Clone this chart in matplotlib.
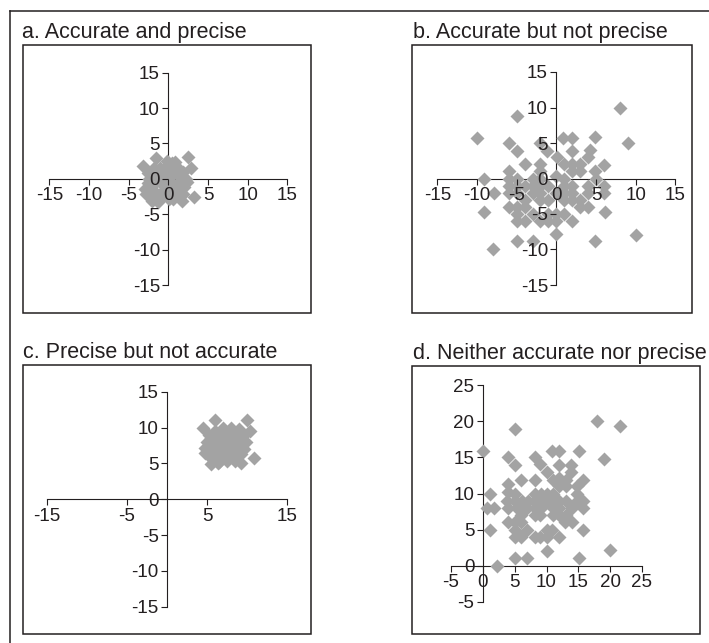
import matplotlib
matplotlib.use("Agg")
import matplotlib.pyplot as plt
from matplotlib.lines import Line2D
from matplotlib.patches import Rectangle

plt.rcParams["font.family"] = ["Liberation Sans", "DejaVu Sans"]

W, H = 709, 643
GREY = "#a3a3a3"
INK = "#231f20"

titles = ["a. Accurate and precise", "b. Accurate but not precise",
          "c. Precise but not accurate", "d. Neither accurate nor precise"]

# panel a: tight cluster round the origin
a_x = [-3.2, -1.6, 2.5, 2.9, 3.3, 1.7, -2.1, -3.0, -2.8, -1.3,
       -2.0, -1.0, 0.0, 1.0, 1.8, -2.4, -1.5, -0.5, 0.5, 1.5, 2.2, -2.0, -1.0, 0.0, 1.0,
       2.0, -1.6, -0.6, 0.4, 1.4, -0.8, 0.6, -2.5, 2.3, 0.2, -0.3, 0.9, -1.2, 1.2, -0.2,
       0.8, -1.8, 1.9, -2.2, -2.6, 0.1, 1.6, -0.9, 0.5, -1.4]
a_y = [1.8, 3.0, 3.1, 1.5, -2.5, -3.1, -3.1, -1.5, -2.2, -3.3,
       1.0, 1.5, 1.9, 1.8, 1.0, 0.0, 0.5, 0.8, 0.6, 0.3, 0.0, -1.0, -0.5, -0.2, -0.8,
       -1.2, -2.0, -1.6, -1.9, -2.0, -2.6, -2.8, -0.6, -0.5, 1.0, -1.0, -1.3, 0.9, 1.1, 2.5,
       2.4, 1.6, -2.1, -1.8, 0.8, -2.9, -0.9, -0.1, 2.2, -2.6]

# panel b: centred but widely scattered
b_x = [8.0, -4.9, -10.0, -6.0, -4.9, -2.1, -1.2, 0.9, 2.0, 4.9, 9.1, 2.0, 4.2, 4.0, 0.1,
       -3.9, -2.1, 1.0, 2.0, 3.0, 6.0, -6.0, -2.1, 2.0, 3.0, 4.9,
       -9.1, -6.0, -5.0, -3.0, -2.0, 0.0, 1.0, 5.0,
       -6.0, -5.0, -4.0, -3.0, -2.0, -1.0, 1.0, 2.0, 4.0, 6.0,
       -7.8, -6.0, -5.0, -3.0, -2.0, 0.0, 1.0, 2.0, 4.0, 6.0,
       -4.0, -2.0, -1.0, 1.0, 2.0, 3.0,
       -6.0, -5.0, -4.0, 3.0, 4.0,
       -9.1, -5.0, -3.0, -1.0, 0.0, 1.0, 6.1,
       -5.0, -4.0, -2.0, -1.0, 0.0, 2.0,
       0.0, -4.9, -3.0, 4.9, 10.0, -8.0]
b_y = [10.0, 8.8, 5.7, 5.0, 3.9, 5.0, 3.9, 5.7, 5.7, 5.9, 5.0, 3.9, 4.0, 3.0, 3.0,
       2.0, 2.0, 2.0, 2.0, 2.0, 1.9, 1.0, 1.0, 1.0, 1.0, 1.0,
       0.0, 0.0, 0.0, 0.0, 0.0, 0.3, 0.0, 0.0,
       -1.0, -1.0, -1.0, -1.0, -1.0, -1.0, -1.0, -1.0, -1.0, -1.0,
       -2.0, -2.0, -2.0, -2.0, -2.0, -2.0, -2.0, -2.0, -2.0, -2.0,
       -3.0, -3.0, -3.0, -3.0, -3.0, -3.0,
       -4.0, -4.0, -4.0, -4.0, -4.0,
       -4.7, -5.0, -5.0, -5.0, -5.0, -5.0, -4.7,
       -6.0, -6.0, -6.0, -6.0, -6.0, -6.0,
       -7.8, -8.8, -8.8, -8.8, -7.9, -10.0]

# panel c: tight cluster away from the origin
c_x = [4.5, 6.0, 10.0, 10.4, 10.9, 9.2, 5.5, 6.3, 4.7,
       5.2, 6.0, 7.0, 8.0, 9.0, 9.6, 5.0, 6.0, 7.0, 8.0, 9.0, 9.8, 4.8, 5.8, 6.8, 7.8,
       8.8, 9.6, 5.2, 6.2, 7.2, 8.2, 9.2, 5.6, 6.6, 7.6, 8.6, 6.5, 7.5, 8.5, 5.5, 7.0,
       8.0, 9.0, 6.0, 7.2, 8.4, 9.4, 5.9, 7.9, 6.8]
c_y = [9.9, 11.0, 11.0, 9.5, 5.7, 5.1, 4.9, 5.0, 6.5,
       9.0, 9.5, 10.0, 10.0, 9.6, 9.0, 8.0, 8.4, 8.8, 8.9, 8.5, 8.0, 7.2, 7.5, 7.8, 7.6,
       7.4, 7.0, 6.3, 6.6, 6.8, 6.5, 6.3, 5.6, 5.8, 5.9, 5.7, 5.2, 5.4, 5.3, 8.6, 9.2,
       9.3, 9.8, 7.0, 7.2, 7.9, 8.4, 6.0, 8.2, 6.2]

# panel d: offset and widely scattered
d_x = [18.0, 21.5, 5.1, 0.1, 4.0, 5.1, 8.2, 9.0, 10.8, 12.0, 15.1, 19.0, 12.0, 13.9, 13.9,
       10.0, 6.0, 8.2, 11.0, 12.0, 13.0, 15.8, 3.9, 12.0, 13.0, 14.8,
       1.1, 4.0, 5.1, 8.2, 9.2, 10.0, 11.0, 14.8,
       3.75, 5.1, 6.1, 7.1, 8.2, 9.0, 10.0, 11.0, 12.0, 13.1, 14.8, 15.8,
       0.6, 1.8, 4.0, 5.3, 7.0, 8.2, 9.2, 11.0, 12.0, 14.0, 15.8,
       6.0, 8.2, 9.0, 11.0, 12.0, 13.1,
       4.0, 5.1, 6.0, 12.9, 14.0,
       1.1, 5.1, 7.0, 10.0, 10.8, 15.8,
       5.1, 6.0, 8.2, 9.0, 10.0, 12.0,
       10.0, 20.0, 5.1, 7.0, 15.1, 2.2]
d_y = [20.1, 19.3, 18.9, 15.9, 15.0, 13.9, 15.0, 14.1, 15.9, 15.9, 15.9, 14.8, 14.0, 14.0, 13.0,
       13.0, 11.9, 11.9, 11.9, 12.1, 11.9, 11.9, 11.3, 11.1, 11.1, 11.1,
       10.0, 10.2, 10.0, 10.0, 10.0, 10.0, 10.0, 10.0,
       9.0, 9.0, 9.0, 9.0, 9.0, 9.0, 9.0, 9.0, 9.0, 9.0, 9.0, 9.0,
       8.0, 8.0, 8.0, 8.0, 8.0, 8.0, 8.0, 8.0, 8.0, 8.0, 8.0,
       7.0, 7.0, 7.0, 7.0, 7.0, 7.0,
       6.0, 6.0, 6.0, 6.0, 6.0,
       5.0, 5.0, 5.0, 5.0, 5.0, 5.0,
       4.0, 4.0, 4.0, 4.0, 4.0, 4.0,
       2.0, 2.2, 1.1, 1.0, 1.1, 0.0]

lim_abc = (-15, 15)
lim_d = (-5, 25)
ticks_full = [-15, -10, -5, 0, 5, 10, 15]
ticks_c = [-15, -5, 5, 15]
ticks_d = [-5, 0, 5, 10, 15, 20, 25]

fig = plt.figure(figsize=(W / 100, H / 100), dpi=100)

def fx(px): return px / W
def fy(py): return 1 - py / H

# outer frame (only top and left edges fall inside the picture)
fig.add_artist(Line2D([fx(10), 1], [fy(11), fy(11)], color=INK, lw=1.1))
fig.add_artist(Line2D([fx(10), fx(10)], [fy(11), 0], color=INK, lw=1.1))

def box(x0, y0, x1, y1):
    fig.add_artist(Rectangle((fx(x0), fy(y1)), fx(x1) - fx(x0), fy(y0) - fy(y1),
                             fill=False, ec=INK, lw=1.1, transform=fig.transFigure))

def panel(rect, xs, ys, lim, xticks, yticks):
    x0, y0, x1, y1 = rect
    ax = fig.add_axes([fx(x0), fy(y1), fx(x1) - fx(x0), fy(y0) - fy(y1)])
    ax.patch.set_alpha(0)
    ax.plot(xs, ys, "D", ms=7.6, color=GREY, mec="none", clip_on=False, zorder=2)
    ax.set_xlim(lim); ax.set_ylim(lim)
    for s in ("top", "right"):
        ax.spines[s].set_visible(False)
    for s in ("left", "bottom"):
        ax.spines[s].set_position(("data", 0))
        ax.spines[s].set_color(INK); ax.spines[s].set_linewidth(0.8)
        ax.spines[s].set_zorder(1)
    ax.set_xticks(xticks); ax.set_yticks(yticks)
    ax.set_xticklabels([str(t) for t in xticks]); ax.set_yticklabels([str(t) for t in yticks])
    ax.tick_params(direction="out", length=4.5, width=0.8, color=INK, labelcolor=INK,
                   labelsize=13.5, pad=1.5)
    ax.xaxis.set_zorder(3); ax.yaxis.set_zorder(3)
    return ax

box(22.5, 45, 311, 313)
box(412, 45, 692, 313)
box(22.5, 365, 311, 634)
box(412, 366, 700, 634)

fig.text(fx(22.5), fy(38), titles[0], fontsize=15.5, color=INK, va="baseline")
fig.text(fx(413), fy(38), titles[1], fontsize=15.5, color=INK, va="baseline")
fig.text(fx(23), fy(358), titles[2], fontsize=15.5, color=INK, va="baseline")
fig.text(fx(413), fy(359), titles[3], fontsize=15.5, color=INK, va="baseline")

panel((49.3, 72.7, 287.3, 285), a_x, a_y, lim_abc, ticks_full, ticks_full)
panel((437.3, 72, 675.3, 285), b_x, b_y, lim_abc, ticks_full, ticks_full)
panel((46.7, 391.7, 287.3, 606.7), c_x, c_y, lim_abc, ticks_c, ticks_full)
panel((451, 385.3, 642, 601.7), d_x, d_y, lim_d, ticks_d, ticks_d)

fig.savefig("out.png", dpi=100)
